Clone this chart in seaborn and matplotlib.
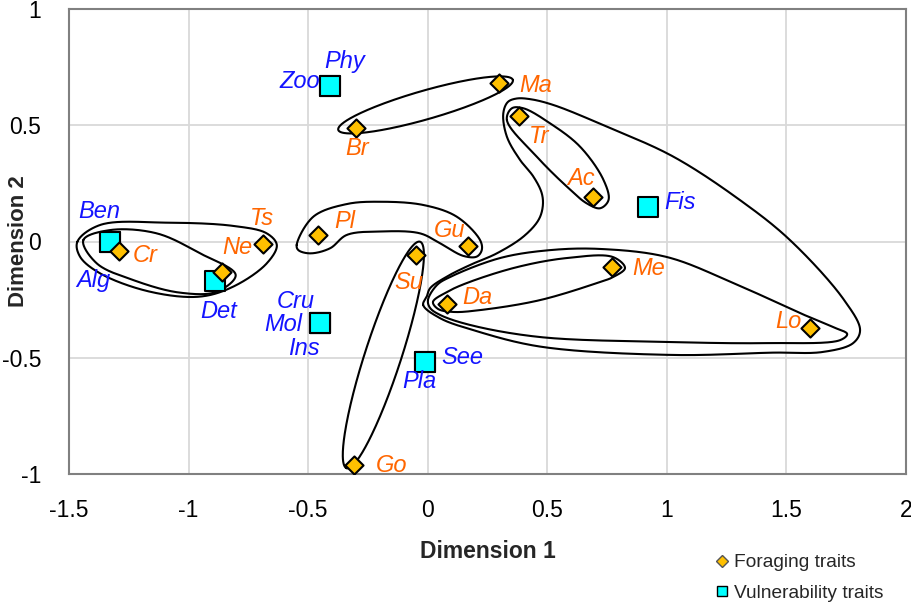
import numpy as np
import pandas as pd
import matplotlib
matplotlib.use("Agg")
import matplotlib.pyplot as plt
from matplotlib.lines import Line2D
import seaborn as sns

# ---------------- data ----------------
forage_names = ["Cr", "Ne", "Ts", "Br", "Pl", "Su", "Gu", "Go", "Ma", "Tr", "Ac", "Me", "Da", "Lo"]
forage_x = [-1.29, -0.86, -0.69, -0.30, -0.46, -0.05, 0.17, -0.31, 0.30, 0.38, 0.69, 0.77, 0.08, 1.60]
forage_y = [-0.04, -0.13, -0.01, 0.49, 0.03, -0.06, -0.02, -0.96, 0.68, 0.54, 0.19, -0.11, -0.27, -0.37]

vuln_names = ["Ben", "Alg", "Det", "Zoo", "Phy", "Cru", "Mol", "Ins", "See", "Pla", "Fis"]
vuln_x = [-1.33, -1.33, -0.89, -0.41, -0.41, -0.45, -0.45, -0.45, -0.01, -0.01, 0.92]
vuln_y = [0.00, 0.00, -0.17, 0.67, 0.67, -0.35, -0.35, -0.35, -0.52, -0.52, 0.15]

# label offsets (pixels: right, down)
forage_off = {"Cr": (26, 5), "Ne": (15, -24), "Ts": (-1, -25), "Br": (1, 21), "Pl": (27, -13),
              "Su": (-7, 27), "Gu": (-19, -16), "Go": (38, 1), "Ma": (36, 2), "Tr": (21, 21),
              "Ac": (-12, -19), "Me": (37, 1), "Da": (30, -7), "Lo": (-22, -6)}
vuln_off = {"Ben": (-10, -30), "Alg": (-16, 39), "Det": (4, 30), "Zoo": (-30, -4), "Phy": (15, -24),
            "Cru": (-24, -21), "Mol": (-37, 2), "Ins": (-16, 26), "See": (37, -5), "Pla": (-6, 19),
            "Fis": (32, -4)}

# enclosing outlines: smooth closed curves (data coordinates)
outlines = {
    "ben_inner": [(-1.44, 0.006), (-1.329, 0.049), (-1.133, 0.035), (-0.952, -0.051), (-0.803, -0.144),
                  (-0.882, -0.216), (-1.036, -0.220), (-1.231, -0.166), (-1.384, -0.094)],
    "ben_outer": [(-1.465, -0.001), (-1.37, 0.071), (-1.091, 0.081), (-0.813, 0.067), (-0.673, 0.035),
                  (-0.631, -0.015), (-0.673, -0.094), (-0.813, -0.194), (-0.952, -0.237), (-1.161, -0.216),
                  (-1.37, -0.137), (-1.454, -0.065)],
    "pl_gu": [(-0.548, -0.015), (-0.478, 0.107), (-0.339, 0.161), (-0.199, 0.171), (-0.018, 0.157),
              (0.121, 0.107), (0.219, 0.006), (0.226, -0.037), (0.205, -0.065), (0.149, -0.062),
              (0.052, -0.008), (-0.032, 0.035), (-0.199, 0.043), (-0.339, 0.028), (-0.408, -0.029),
              (-0.492, -0.051), (-0.541, -0.037)],
    "tr_ac": [(0.331, 0.523), (0.456, 0.365), (0.582, 0.236), (0.665, 0.164), (0.721, 0.143), (0.756, 0.178),
              (0.735, 0.265), (0.637, 0.408), (0.512, 0.508), (0.40, 0.573), (0.352, 0.573)],
    "da_me": [(0.022, -0.26), (0.081, -0.217), (0.165, -0.178), (0.374, -0.11), (0.583, -0.071),
              (0.775, -0.067), (0.825, -0.114), (0.775, -0.153), (0.721, -0.174), (0.47, -0.252),
              (0.219, -0.295), (0.106, -0.303), (0.043, -0.29)],
    "da_lo": [(0.001, -0.252), (0.039, -0.187), (0.093, -0.153), (0.303, -0.071), (0.512, -0.037),
              (0.721, -0.032), (1.001, -0.067), (1.277, -0.178), (1.557, -0.308), (1.695, -0.368),
              (1.754, -0.398), (1.725, -0.424), (1.419, -0.437), (1.001, -0.432), (0.470, -0.411),
              (0.177, -0.359), (0.052, -0.316), (0.010, -0.286)],
    "big": [(-0.019, -0.273), (-0.004, -0.237), (0.010, -0.201), (0.080, -0.151), (0.177, -0.101),
            (0.289, -0.051), (0.400, 0.021), (0.463, 0.092), (0.481, 0.150), (0.477, 0.207), (0.442, 0.279),
            (0.386, 0.351), (0.331, 0.451), (0.316, 0.551), (0.335, 0.600), (0.372, 0.615), (0.43, 0.612),
            (0.526, 0.587), (0.749, 0.494), (1.027, 0.365), (1.306, 0.178), (1.515, 0.006), (1.74, -0.25),
            (1.808, -0.381), (1.779, -0.437), (1.653, -0.475), (1.444, -0.478), (1.026, -0.488),
            (0.470, -0.452), (0.190, -0.381), (0.052, -0.330)],
}
# elliptical outlines: (tip 1, tip 2, half width) in data units
ellipses = {
    "br_ma": ((-0.374, 0.480), (0.356, 0.695), 0.060),
    "su_go": ((-0.032, -0.001), (-0.339, -0.975), 0.076),
}

x_ticks = [-1.5, -1, -0.5, 0, 0.5, 1, 1.5, 2]
y_ticks = [-1, -0.5, 0, 0.5, 1]
x_ticklabels = ["-1.5", "-1", "-0.5", "0", "0.5", "1", "1.5", "2"]
y_ticklabels = ["-1", "-0.5", "0", "0.5", "1"]

ORANGE = "#FF6600"
BLUE = "#1414FF"
GOLD = "#FFC000"
CYAN = "#00FFFF"
KY = 232.5 / 239.1  # y-unit to x-unit screen ratio


def smooth_closed(pts, n=40, alpha=0.5):
    P = np.asarray(pts, dtype=float)
    N = len(P)
    out = []
    for i in range(N):
        p0, p1, p2, p3 = P[(i - 1) % N], P[i], P[(i + 1) % N], P[(i + 2) % N]
        t0 = 0.0
        t1 = t0 + np.linalg.norm(p1 - p0) ** alpha
        t2 = t1 + np.linalg.norm(p2 - p1) ** alpha
        t3 = t2 + np.linalg.norm(p3 - p2) ** alpha
        t = np.linspace(t1, t2, n, endpoint=False)[:, None]
        A1 = (t1 - t) / (t1 - t0) * p0 + (t - t0) / (t1 - t0) * p1
        A2 = (t2 - t) / (t2 - t1) * p1 + (t - t1) / (t2 - t1) * p2
        A3 = (t3 - t) / (t3 - t2) * p2 + (t - t2) / (t3 - t2) * p3
        B1 = (t2 - t) / (t2 - t0) * A1 + (t - t0) / (t2 - t0) * A2
        B2 = (t3 - t) / (t3 - t1) * A2 + (t - t1) / (t3 - t1) * A3
        C = (t2 - t) / (t2 - t1) * B1 + (t - t1) / (t2 - t1) * B2
        out.append(C)
    out = np.vstack(out)
    return np.vstack([out, out[:1]])


def ellipse_tips(p1, p2, hw, n=300):
    a = np.array([p1[0], p1[1] * KY])
    b = np.array([p2[0], p2[1] * KY])
    c = (a + b) / 2
    d = b - a
    L = np.linalg.norm(d) / 2
    u = d / (2 * L)
    v = np.array([-u[1], u[0]])
    t = np.linspace(0, 2 * np.pi, n)
    pts = c + np.outer(L * np.cos(t), u) + np.outer(hw * np.sin(t), v)
    pts[:, 1] /= KY
    return pts


sns.set_style("white")
plt.rcParams["font.family"] = ["Liberation Sans", "DejaVu Sans"]

fig = plt.figure(figsize=(9.12, 6.10), dpi=100)
ax = fig.add_axes([69 / 912, 1 - 474 / 610, (906 - 69) / 912, (474 - 9) / 610])

# outlines
for key, pts in outlines.items():
    c = smooth_closed(pts)
    ax.plot(c[:, 0], c[:, 1], color="black", lw=1.5, zorder=2)
for key, (p1, p2, hw) in ellipses.items():
    c = ellipse_tips(p1, p2, hw)
    ax.plot(c[:, 0], c[:, 1], color="black", lw=1.5, zorder=2)

df_f = pd.DataFrame({"name": forage_names, "x": forage_x, "y": forage_y})
df_v = pd.DataFrame({"name": vuln_names, "x": vuln_x, "y": vuln_y})

sns.scatterplot(data=df_v, x="x", y="y", marker="s", s=190, color=CYAN, edgecolor="black",
                linewidth=1.5, ax=ax, zorder=4, legend=False)
sns.scatterplot(data=df_f, x="x", y="y", marker="D", s=85, color=GOLD, edgecolor="black",
                linewidth=1.5, ax=ax, zorder=5, legend=False)

ax.set_xlim(-1.5, 2)
ax.set_ylim(-1, 1)
ax.set_xticks(x_ticks)
ax.set_yticks(y_ticks)
ax.set_xticklabels(x_ticklabels)
ax.set_yticklabels(y_ticklabels)
ax.grid(True, color="#D9D9D9", lw=1.3)
ax.set_axisbelow(True)
for s in ax.spines.values():
    s.set_color("#808080")
    s.set_linewidth(1.5)
ax.tick_params(axis="both", length=0, labelsize=16.5, colors="black")
ax.tick_params(axis="x", pad=18)
ax.tick_params(axis="y", pad=20)

for _, r in df_f.iterrows():
    dx, dy = forage_off[r["name"]]
    ax.annotate(r["name"], (r["x"], r["y"]), xytext=(dx, -dy), textcoords="offset pixels",
                ha="center", va="center", color=ORANGE, fontsize=17, style="italic", zorder=6)
for _, r in df_v.iterrows():
    dx, dy = vuln_off[r["name"]]
    ax.annotate(r["name"], (r["x"], r["y"]), xytext=(dx, -dy), textcoords="offset pixels",
                ha="center", va="center", color=BLUE, fontsize=17, style="italic", zorder=6)

ax.set_xlabel("Dimension 1", fontsize=16.5, fontweight="bold", labelpad=13)
ax.set_ylabel("")
fig.text(19 / 912, 1 - 241 / 610, "Dimension 2", rotation=90, ha="center", va="center",
         fontsize=16, fontweight="bold")

handles = [
    Line2D([], [], ls="none", marker="D", markersize=6.5, markerfacecolor=GOLD, markeredgecolor="#555555",
           markeredgewidth=1, label="Foraging traits"),
    Line2D([], [], ls="none", marker="s", markersize=7.5, markerfacecolor=CYAN, markeredgecolor="black",
           markeredgewidth=1, label="Vulnerability traits"),
]
fig.legend(handles=handles, loc="center left", bbox_to_anchor=(707 / 912, 1 - 578 / 610), frameon=False,
           fontsize=13.8, handlelength=0.6, handletextpad=0.3, labelspacing=0.68, borderpad=0)

fig.savefig("out.png", dpi=100)
